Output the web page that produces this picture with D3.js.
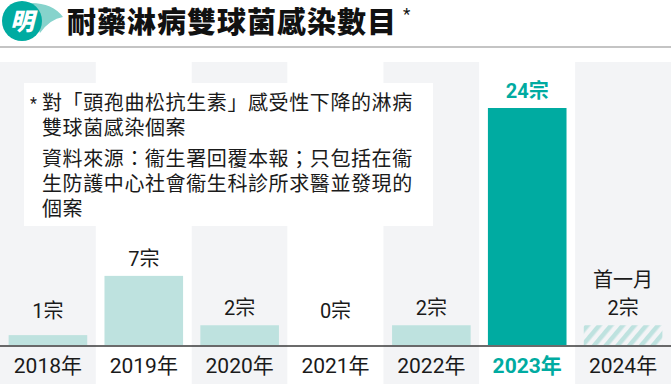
<!DOCTYPE html>
<html><head><meta charset="utf-8">
<script src="https://cdn.jsdelivr.net/npm/d3@7"></script>
<style>
html,body{margin:0;padding:0;background:#fff;}
svg{display:block;}
text{font-family:Roboto,"Noto Sans CJK TC","Noto Sans CJK SC",sans-serif;}
</style></head>
<body>
<svg id="chart" width="671" height="384"></svg>
<script>
const years = ["2018年","2019年","2020年","2021年","2022年","2023年","2024年"];
const values = [1,7,2,0,2,24,2];
const valueLabels = ["1宗","7宗","2宗","0宗","2宗","24宗","2宗"];
const partialYear = "2024年";
const partialNote = "首一月";
const highlightYear = "2023年";
const titleText = "耐藥淋病雙球菌感染數目";
const noteLines = ["對「頭孢曲松抗生素」感受性下降的淋病","雙球菌感染個案"];
const sourceLines = ["資料來源：衞生署回覆本報；只包括在衞","生防護中心社會衞生科診所求醫並發現的","個案"];

const W = 671, H = 384;
const svg = d3.select("#chart");
const teal = "#00aba1", light = "#bee2df", band = "#f3f4f6";

const defs = svg.append("defs");
const pat = defs.append("pattern").attr("id","hatch").attr("patternUnits","userSpaceOnUse")
  .attr("width",9).attr("height",9).attr("patternTransform","rotate(40)");
pat.append("rect").attr("width",4.5).attr("height",9).attr("fill",light);

const x = d3.scaleBand().domain(years).range([0, W]).paddingInner(0.18).paddingOuter(0.09);
const xb = d3.scaleBand().domain(years).range([0, W]);
const y = d3.scaleLinear().domain([0, 24]).range([345, 108]);

// background bands
svg.append("g").selectAll("rect").data(years).join("rect")
  .attr("x", d => xb(d)).attr("width", xb.bandwidth())
  .attr("y", 62).attr("height", H - 62)
  .attr("fill", (d,i) => i % 2 === 0 ? band : "#fff");

// title
const logo = svg.append("g");
logo.append("path").attr("d","M28 3 Q52 2 63 17 Q50 19 40 33 Z").attr("fill","#86d3cc");
logo.append("circle").attr("cx",22).attr("cy",21).attr("r",20).attr("fill",teal);
logo.append("text").attr("x",22).attr("y",30).attr("text-anchor","middle")
  .attr("font-size",24).attr("font-weight",900).attr("font-style","italic").attr("fill","#fff").text("明");
svg.append("text").attr("x",67).attr("y",33).attr("font-size",29).attr("font-weight",900)
  .attr("letter-spacing",1).attr("fill","#111").text(titleText);
svg.append("text").attr("x",403).attr("y",20).attr("font-size",17).attr("fill","#111").text("*");
svg.append("rect").attr("x",0).attr("y",46).attr("width",W).attr("height",2).attr("fill","#c4c4c4");

// bars
const bars = svg.append("g");
bars.selectAll("rect").data(values.map((v,i)=>({v, yr: years[i]}))).join("rect")
  .attr("x", d => x(d.yr)).attr("width", x.bandwidth())
  .attr("y", d => y(d.v)).attr("height", d => y(0) - y(d.v))
  .attr("fill", d => d.yr === highlightYear ? teal : d.yr === partialYear ? "url(#hatch)" : light);

// value labels
const lab = svg.append("g");
values.forEach((v,i) => {
  const yr = years[i];
  const cx = x(yr) + x.bandwidth()/2;
  const by = Math.min(y(v) - 10, 318);
  const hl = yr === highlightYear;
  lab.append("text").attr("x", cx).attr("y", by).attr("text-anchor","middle")
    .attr("font-size",20).attr("font-weight", hl ? 700 : 400)
    .attr("fill", hl ? teal : "#1a1a1a").text(valueLabels[i]);
  if (yr === partialYear) {
    lab.append("text").attr("x", cx).attr("y", by - 28).attr("text-anchor","middle")
      .attr("font-size",20).attr("fill","#1a1a1a").text(partialNote);
  }
});

// axis
const axis = svg.append("g").attr("transform","translate(0,346)")
  .call(d3.axisBottom(xb).tickSize(0).tickPadding(0));
axis.select(".domain").attr("stroke","#3a3a3a").attr("stroke-width",1.5).attr("d",`M0,0H${W}`);
axis.selectAll(".tick text").attr("font-size",21).attr("dy",0).attr("y",27)
  .attr("font-family",'Roboto,"Noto Sans CJK TC",sans-serif')
  .attr("font-weight", d => d === highlightYear ? 700 : 400)
  .attr("fill", d => d === highlightYear ? teal : "#1a1a1a");

// note box
svg.append("rect").attr("x",24).attr("y",83).attr("width",409).attr("height",143).attr("fill","#fff");
const nt = svg.append("g").attr("font-size",20).attr("fill","#1a1a1a").attr("letter-spacing",0.6);
nt.append("text").attr("x",30).attr("y",109).attr("font-size",16).text("*");
noteLines.forEach((t,i) => nt.append("text").attr("x",42).attr("y",110 + i*25).text(t));
sourceLines.forEach((t,i) => nt.append("text").attr("x",42).attr("y",166 + i*25).text(t));
</script>
</body></html>
